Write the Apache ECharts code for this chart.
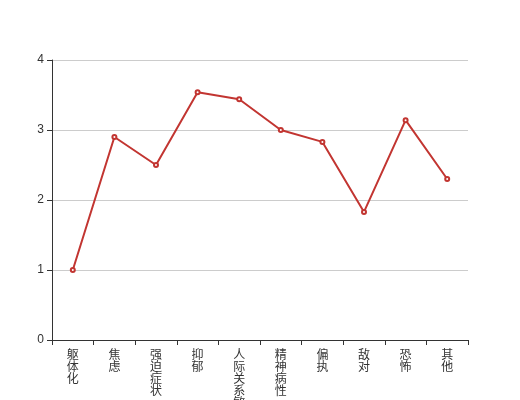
<!DOCTYPE html>
<html><head><meta charset="utf-8">
<script src="https://cdn.jsdelivr.net/npm/echarts@6/dist/echarts.min.js"></script>
<style>html,body{margin:0;padding:0;background:#fff}#c{width:520px;height:400px}</style>
</head><body><div id="c"></div>
<script>
var categories = ['躯体化','焦虑','强迫症状','抑郁','人际关系敏感','精神病性','偏执','敌对','恐怖','其他'];
var values = [1.0, 2.9, 2.5, 3.54, 3.44, 3.0, 2.83, 1.83, 3.14, 2.3];
var chart = echarts.init(document.getElementById('c'));
chart.setOption({
  animation: false,
  grid: {left: 52, right: 52, top: 60, bottom: 60, containLabel: false, outerBoundsMode: 'none'},
  xAxis: {
    type: 'category', data: categories, boundaryGap: true,
    axisLine: {show: true, lineStyle: {color: '#333'}},
    axisTick: {show: true, lineStyle: {color: '#333'}},
    axisLabel: {color: '#333', fontSize: 12, lineHeight: 12, interval: 0,
      fontFamily: 'Noto Sans CJK SC',
      formatter: function (v) { return v.split('').join('\n'); }}
  },
  yAxis: {
    type: 'value', min: 0, max: 4, interval: 1,
    axisLine: {show: true, lineStyle: {color: '#333'}},
    axisTick: {show: true, lineStyle: {color: '#333'}},
    axisLabel: {color: '#333', fontSize: 12},
    splitLine: {lineStyle: {color: '#ccc'}}
  },
  series: [{
    type: 'line', data: values,
    symbol: 'emptyCircle', symbolSize: 4,
    itemStyle: {color: '#c23531'},
    lineStyle: {color: '#c23531', width: 2}
  }]
});
</script></body></html>
